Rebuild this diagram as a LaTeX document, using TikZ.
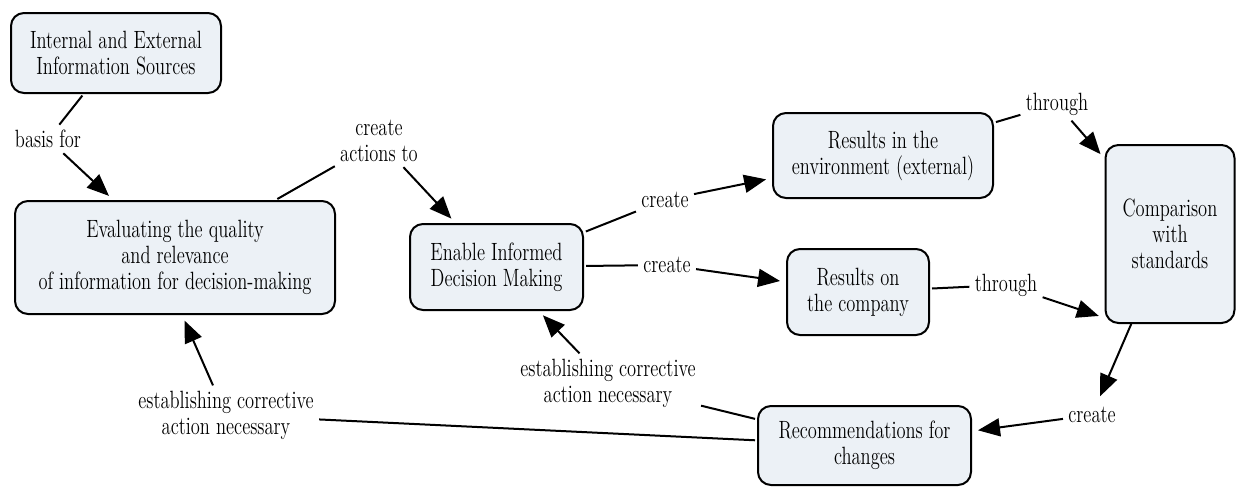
\documentclass[tikz,border=0pt]{standalone}
\usepackage{fontspec}
\setmainfont{Latin Modern Roman}[FakeStretch=0.74]
\usetikzlibrary{arrows.meta}
\definecolor{cmapfill}{RGB}{236,241,246}
\tikzset{
  concept/.style={draw=black,line width=1pt,fill=cmapfill,rounded corners=6.5pt,align=center,inner sep=0pt},
  linkword/.style={align=center,inner sep=2.5pt},
  link/.style={line width=1pt,shorten <=1pt},
  linkto/.style={line width=1pt,-{Triangle[length=11pt,width=9pt]},shorten >=3pt},
}

\begin{document}
\begin{tikzpicture}[x=0.5pt,y=-0.5pt,font=\fontsize{12.5}{13}\selectfont]
  \useasboundingbox (0,0) rectangle (1236,487);
  % concepts
  \node[concept,minimum width=105pt,minimum height=40pt] (src) at (116,53) {Internal and External\\Information Sources};
  \node[concept,minimum width=160pt,minimum height=56.5pt] (eval) at (175,257.5) {Evaluating the quality\\and relevance\\of information for decision-making};
  \node[concept,minimum width=86.5pt,minimum height=43pt] (enable) at (496.5,267) {Enable Informed\\Decision Making};
  \node[concept,minimum width=110pt,minimum height=42.5pt] (resenv) at (883,155.5) {Results in the\\environment (external)};
  \node[concept,minimum width=71pt,minimum height=43pt] (rescomp) at (858,292) {Results on\\the company};
  \node[concept,minimum width=64.5pt,minimum height=89pt] (comp) at (1170,234) {Comparison\\with\\standards};
  \node[concept,minimum width=106.5pt,minimum height=39.5pt] (recom) at (864.5,445.5) {Recommendations for\\changes};
  % linking words
  \node[linkword] (lbasis) at (48,139) {basis for};
  \node[linkword] (lcreateact) at (379,141) {create\\actions to};
  \node[linkword] (lcreateup) at (665,200) {create};
  \node[linkword] (lcreatelow) at (667,265) {create};
  \node[linkword] (lthroughup) at (1057,104) {through};
  \node[linkword] (lthroughlow) at (1006,285) {through};
  \node[linkword] (lcreaterec) at (1092,415) {create};
  \node[linkword] (lestleft) at (226,415) {establishing corrective\\action necessary};
  \node[linkword] (lestmid) at (608,383) {establishing corrective\\action necessary};
  % connections
  \draw[link] (src) -- (lbasis);
  \draw[linkto] (lbasis) -- (eval);
  \draw[link] (eval) -- (lcreateact);
  \draw[linkto] (lcreateact) -- (enable);
  \draw[link] (enable) -- (lcreateup);
  \draw[linkto] (lcreateup) -- (resenv);
  \draw[link] (enable) -- (lcreatelow);
  \draw[linkto] (lcreatelow) -- (rescomp);
  \draw[link] (resenv) -- (lthroughup);
  \draw[linkto] (lthroughup) -- (comp);
  \draw[link] (rescomp) -- (lthroughlow);
  \draw[linkto] (lthroughlow) -- (comp.232);
  \draw[linkto] (comp) -- (lcreaterec);
  \draw[linkto] (lcreaterec) -- (recom);
  \draw[link] (recom) -- (lestleft);
  \draw[linkto] (lestleft) -- (eval.277);
  \draw[link] (recom) -- (lestmid);
  \draw[linkto] (lestmid) -- (enable);
\end{tikzpicture}
\end{document}
